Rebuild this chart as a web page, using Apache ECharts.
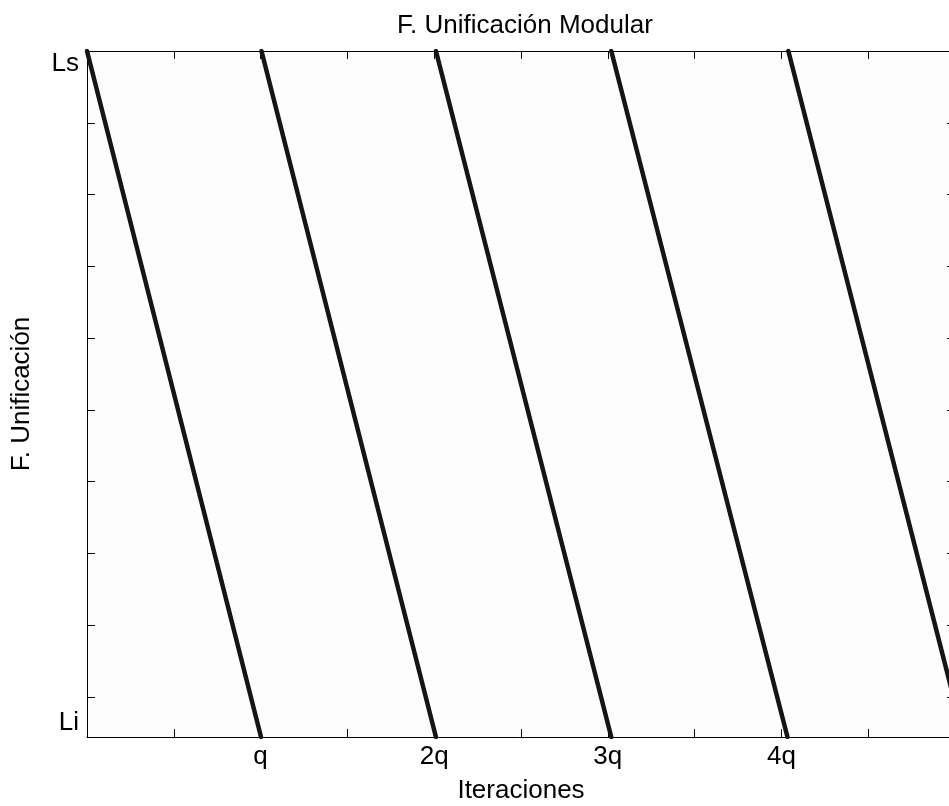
<!DOCTYPE html>
<html>
<head>
<meta charset="utf-8">
<script src="https://cdn.jsdelivr.net/npm/echarts@6/dist/echarts.min.js"></script>
<style>
html,body{margin:0;padding:0;background:#fff;}
#chart{width:949px;height:806px;}
</style>
</head>
<body>
<div id="chart"></div>
<script>
// x in half-q units (tick spacing = q/2), y in tick units measured from Ls (top)
const xTickLabels = ['', '', 'q', '', '2q', '', '3q', '', '4q', '', ''];
const yTopLabel = 'Ls';
const yBottomLabel = 'Li';
const yLs = 0;
const yLi = 9.56;
const xMax = 10;
// each ramp: starts at Ls at lineStartX, ends at Li at lineEndX
const lineStartX = [0, 2.01, 4.02, 6.04, 8.08];
const lineEndX = [2.005, 4.02, 6.04, 8.07, 10.1];

const FONT = 'Arial, "Liberation Sans", sans-serif';
const chart = echarts.init(document.getElementById('chart'));

const series = lineStartX.map((x0, i) => ({
  type: 'line',
  xAxisIndex: 0,
  yAxisIndex: 0,
  data: [[x0, yLs], [lineEndX[i], yLi]],
  showSymbol: false,
  symbol: 'none',
  clip: true,
  lineStyle: { color: '#151515', width: 4.5, cap: 'round' },
  silent: true,
  animation: false
}));

const axisLine = { show: true, onZero: false, lineStyle: { color: '#000', width: 1 } };
const axisTick = { show: true, inside: true, length: 8, lineStyle: { color: '#000', width: 1 } };

chart.setOption({
  animation: false,
  backgroundColor: '#ffffff',
  title: {
    text: 'F. Unificación Modular',
    left: 520,
    textAlign: 'center',
    top: 8,
    textStyle: { fontFamily: FONT, fontSize: 26, fontWeight: 'normal', color: '#000' }
  },
  grid: {
    left: 87, top: 51, width: 868, height: 686,
    outerBoundsMode: 'none', containLabel: false,
    show: true, backgroundColor: '#fdfdfd', borderWidth: 0
  },
  xAxis: [
    {
      type: 'value', position: 'bottom', min: 0, max: xMax, interval: 1,
      name: 'Iteraciones', nameLocation: 'middle', nameGap: 41,
      nameTextStyle: { fontFamily: FONT, fontSize: 26, color: '#000' },
      axisLine, axisTick, splitLine: { show: false },
      axisLabel: {
        show: true, margin: 7, fontFamily: FONT, fontSize: 26, color: '#000',
        showMaxLabel: false,
        formatter: v => xTickLabels[Math.round(v)] || ''
      }
    },
    {
      type: 'value', position: 'top', min: 0, max: xMax, interval: 1,
      axisLine, axisTick, splitLine: { show: false }, axisLabel: { show: false }
    }
  ],
  yAxis: [
    {
      type: 'value', position: 'left', inverse: true, min: yLs, max: yLi, interval: 1,
      name: 'F. Unificación', nameLocation: 'middle', nameGap: 52, nameRotate: 90,
      nameTextStyle: { fontFamily: FONT, fontSize: 26, color: '#000' },
      axisLine, axisTick, splitLine: { show: false },
      axisLabel: {
        show: true, margin: 8, showMaxLabel: true, showMinLabel: true,
        formatter: v => v === yLs ? '{a|' + yTopLabel + '}' : (Math.abs(v - yLi) < 1e-6 ? '{b|' + yBottomLabel + '}' : ''),
        rich: {
          a: { fontFamily: FONT, fontSize: 26, color: '#000', padding: [26, 0, 0, 0] },
          b: { fontFamily: FONT, fontSize: 26, color: '#000', padding: [0, 0, 28, 0] }
        }
      }
    },
    {
      type: 'value', position: 'right', inverse: true, min: yLs, max: yLi, interval: 1,
      axisLine, axisTick, splitLine: { show: false }, axisLabel: { show: false }
    }
  ],
  series
});
</script>
</body>
</html>
